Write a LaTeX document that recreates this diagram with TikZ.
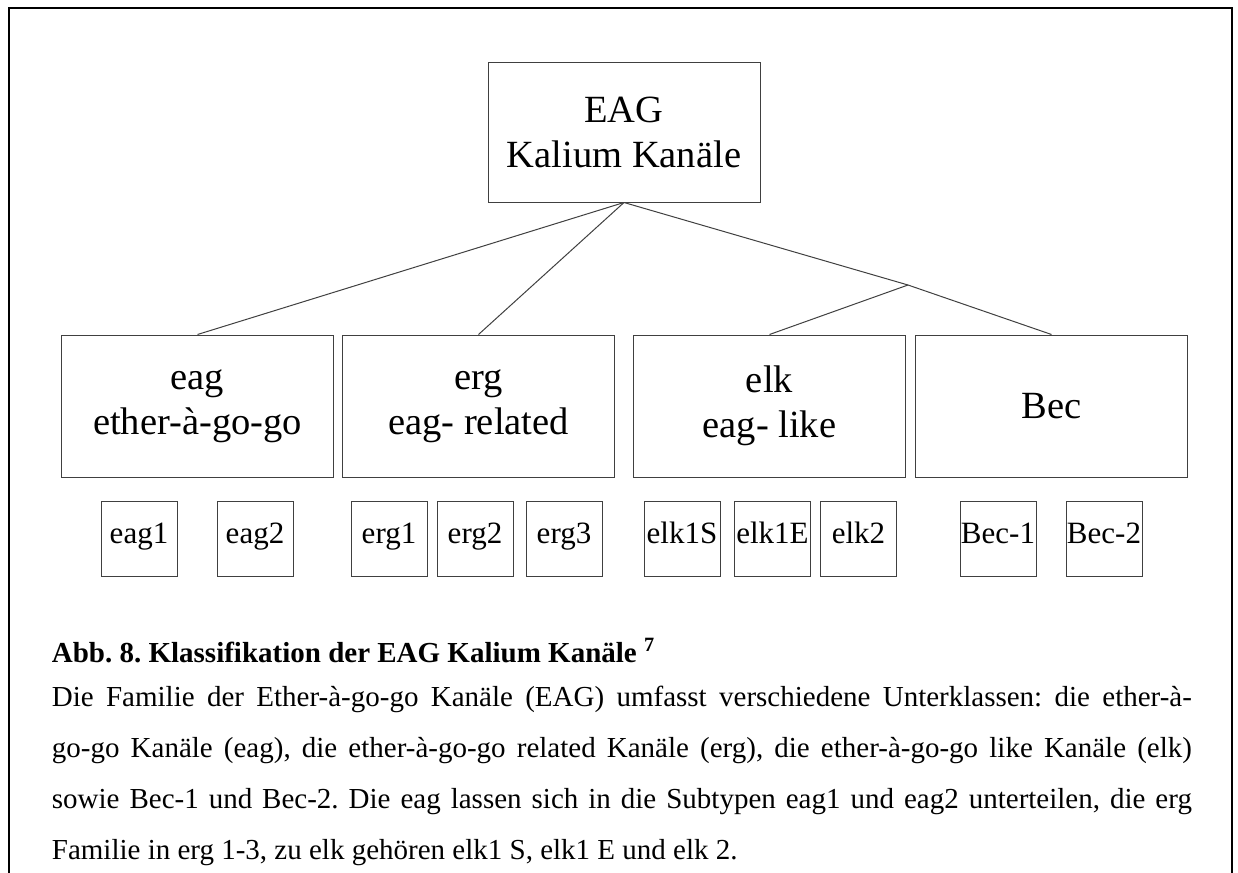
\documentclass[tikz,border=0pt]{standalone}
\usepackage{fontspec}
\setmainfont{Liberation Serif}
\usepackage{tikz}
\frenchspacing

\begin{document}
\begin{tikzpicture}[x=0.5pt,y=-0.5pt,
    classbox/.style={draw=black!75,line width=0.5pt,minimum width=136pt,
    minimum height=71pt,align=center,font=\fontsize{19.25}{22.5}\selectfont},
    subbox/.style={draw=black!75,line width=0.5pt,minimum width=38pt,
    minimum height=37.5pt,inner sep=0pt,text height=0.68em,text depth=0.22em,
    font=\fontsize{15.5}{18.5}\selectfont},
    link/.style={draw=black!75,line width=0.5pt}]
    \useasboundingbox (0,0) rectangle (1238,873);
    \draw[line width=1pt] (8.5,873) -- (8.5,7.5) -- (1232,7.5) -- (1232,873);

    \node[classbox,minimum height=70pt] (root) at (624,132) {EAG\\Kalium Kanäle};
    \node[classbox] (eag) at (197.5,406) {eag\\ether-à-go-go};
    \node[classbox] (erg) at (478.5,406) {erg\\eag- related};
    \node[classbox] (elk) at (769.5,406) {elk\\eag- like};
    \node[classbox] (bec) at (1051.5,406) {Bec};
    \coordinate (split) at (908,285);

    \path[link]
    (root.south) edge (eag.north) edge (erg.north) edge (split);
    \path[link]
    (split) edge (elk.north) edge (bec.north);

    \node[subbox] (eag1) at (139,538.5) {eag1};
    \node[subbox] (eag2) at (255,538.5) {eag2};
    \node[subbox] (erg1) at (389,538.5) {erg1};
    \node[subbox] (erg2) at (475,538.5) {erg2};
    \node[subbox] (erg3) at (564,538.5) {erg3};
    \node[subbox] (elk1S) at (682,538.5) {elk1S};
    \node[subbox] (elk1E) at (772.5,538.5) {elk1E};
    \node[subbox] (elk2) at (858.5,538.5) {elk2};
    \node[subbox] (bec1) at (998,538.5) {Bec-1};
    \node[subbox] (bec2) at (1104,538.5) {Bec-2};

    \node[anchor=base west,inner sep=0pt,font=\fontsize{14.5}{25}\selectfont\bfseries]
    (caption) at (51.5,662) {Abb. 8. Klassifikation der EAG Kalium Kanäle \textsuperscript{7}};
    \node[anchor=base west,inner sep=0pt,text width=570pt,align=justify,
    font=\fontsize{14.5}{25.5}\selectfont] (legend) at (51.5,706)
    {\setlength{\parindent}{0pt}Die Familie der Ether-à-go-go Kanäle (EAG) umfasst verschiedene
    Unterklassen: die ether-à-\linebreak go-go Kanäle (eag), die ether-à-go-go related Kanäle (erg),
    die ether-à-go-go like Kanäle (elk)\linebreak sowie Bec-1 und Bec-2. Die eag lassen sich in die
    Subtypen eag1 und eag2 unterteilen, die erg\linebreak Familie in erg 1-3, zu elk gehören elk1 S,
    elk1 E und elk 2.};
  \end{tikzpicture}
\end{document}
